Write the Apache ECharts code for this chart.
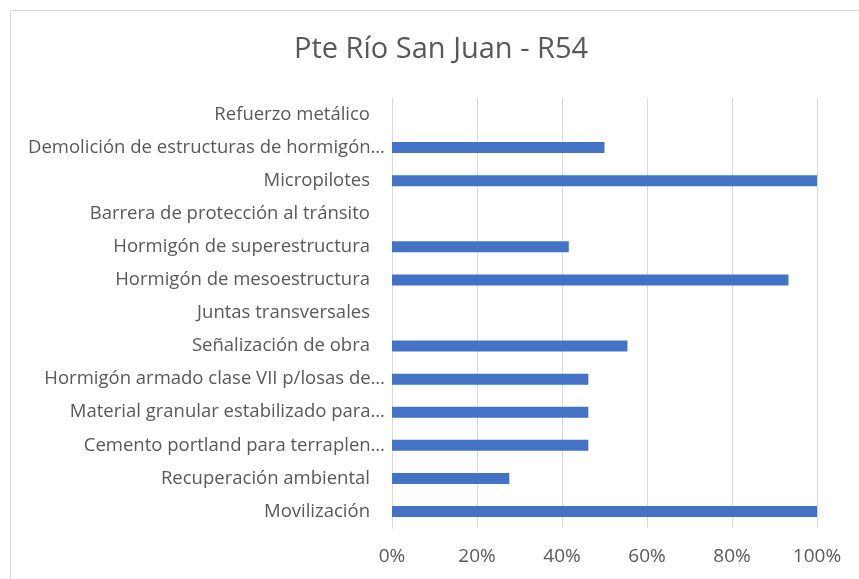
<!DOCTYPE html>
<html>
<head>
<meta charset="utf-8">
<script src="https://cdn.jsdelivr.net/npm/echarts@6/dist/echarts.min.js"></script>
<style>
  html, body { margin: 0; padding: 0; background: #fff; }
  #chart { width: 859px; height: 579px; }
</style>
</head>
<body>
<div id="chart"></div>
<script>
// categorias de abajo hacia arriba (como en el eje de Excel)
const categories = [
  'Movilización',
  'Recuperación ambiental',
  'Cemento portland para terraplen…',
  'Material granular estabilizado para…',
  'Hormigón armado clase VII p/losas de…',
  'Señalización de obra',
  'Juntas transversales',
  'Hormigón de mesoestructura',
  'Hormigón de superestructura',
  'Barrera de protección al tránsito',
  'Micropilotes',
  'Demolición de estructuras de hormigón…',
  'Refuerzo metálico'
];
// avance en %
const avance = [100, 27.6, 46.2, 46.2, 46.2, 55.4, 0, 93.3, 41.6, 0, 100, 50, 0];
const xTicks = [0, 20, 40, 60, 80, 100];

const chart = echarts.init(document.getElementById('chart'));
const font = 'Open Sans';

chart.setOption({
  animation: false,
  backgroundColor: '#fff',
  title: {
    text: 'Pte Río San Juan - R54',
    left: 289,
    top: 30,
    textStyle: { fontFamily: font, fontSize: 29, fontWeight: 'normal', color: '#595959' }
  },
  graphic: [{
    type: 'rect',
    shape: { x: 10.5, y: 10.5, width: 900, height: 700 },
    style: { fill: 'none', stroke: '#d9d9d9', lineWidth: 1 },
    silent: true
  }],
  grid: { left: 392, right: 42, top: 98, bottom: 51 },
  xAxis: {
    type: 'value',
    min: 0,
    max: 100,
    interval: 20,
    axisLine: { show: false },
    axisTick: { show: false },
    splitLine: { lineStyle: { color: '#d9d9d9', width: 1 } },
    axisLabel: {
      margin: 19,
      fontFamily: font,
      fontSize: 19,
      color: '#595959',
      formatter: v => (xTicks.includes(v) ? v + '%' : '')
    }
  },
  yAxis: {
    type: 'category',
    data: categories,
    axisLine: { show: true, lineStyle: { color: '#d9d9d9' } },
    axisTick: { show: false },
    axisLabel: {
      margin: 7,
      fontFamily: font,
      fontSize: 18.5,
      color: '#595959',
      formatter: v => (v.endsWith('…') ? '{t|' + v + '}' : '{n|' + v + '}'),
      rich: {
        t: { fontFamily: font, fontSize: 18.5, color: '#595959' },
        n: { fontFamily: font, fontSize: 18.5, color: '#595959', padding: [0, 15, 0, 0] }
      }
    }
  },
  series: [{
    type: 'bar',
    data: avance,
    barWidth: 11,
    itemStyle: { color: '#4472c4' }
  }]
});
</script>
</body>
</html>
